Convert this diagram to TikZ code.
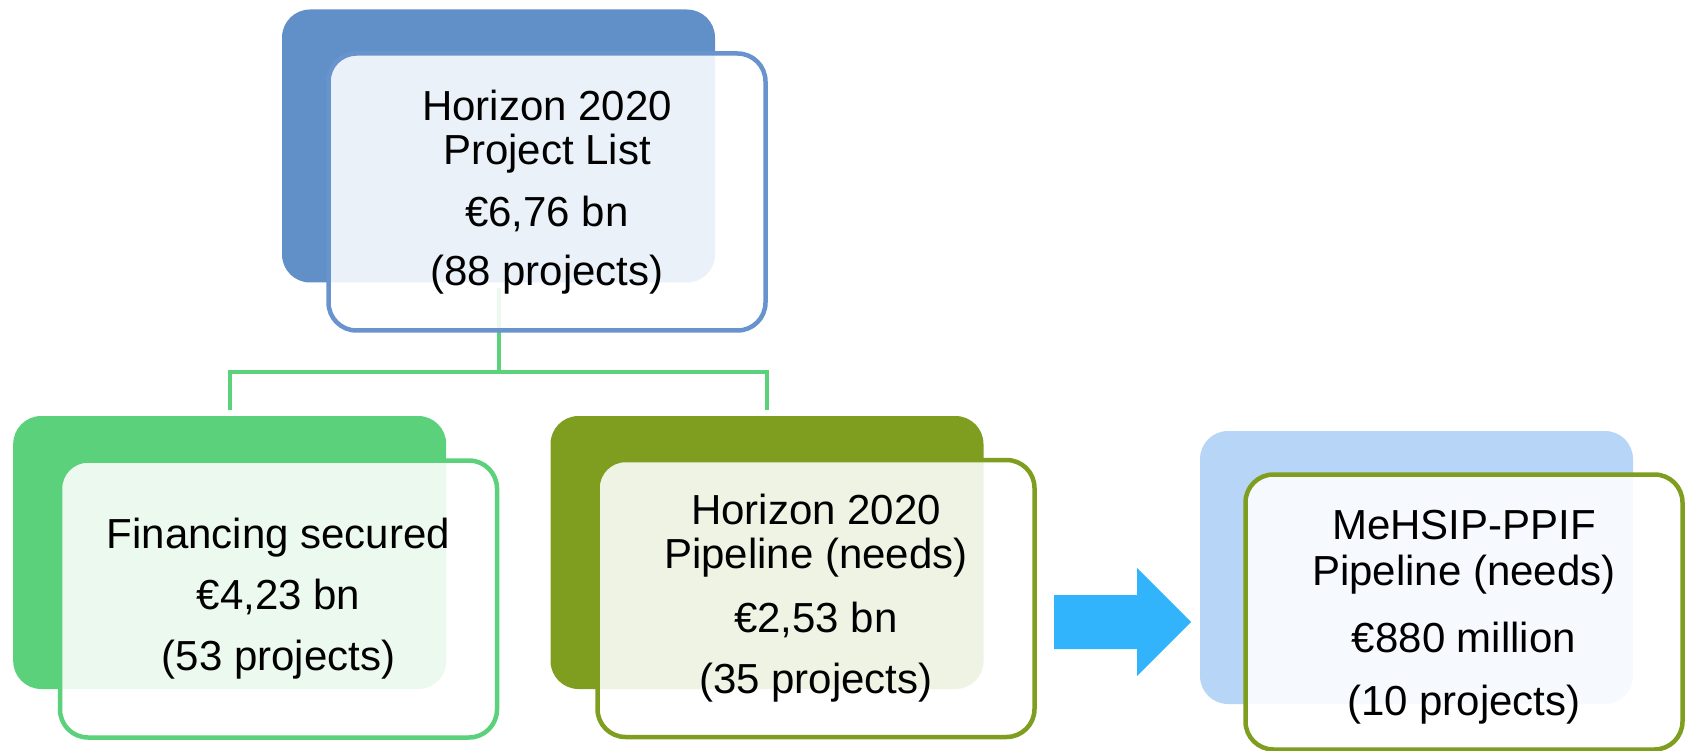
\documentclass[tikz,border=0pt]{standalone}
\usepackage{fontspec}
\setmainfont{Liberation Sans}
\definecolor{cblue}{RGB}{97,144,201}
\definecolor{cbluestroke}{RGB}{104,147,204}
\definecolor{cgreen}{RGB}{91,209,123}
\definecolor{colive}{RGB}{127,158,32}
\definecolor{clight}{RGB}{183,213,247}
\definecolor{carrow}{RGB}{49,180,252}
\tikzset{
  backbox/.style={rectangle, rounded corners=28pt, draw=none, inner sep=0pt,
    minimum width=433pt, minimum height=273pt},
  frontbox/.style={rectangle, rounded corners=28pt, line width=4.5pt, fill=white,
    fill opacity=0.88, text opacity=1, inner sep=0pt, align=center,
    minimum width=437pt, minimum height=277pt,
    font=\fontsize{42}{44}\selectfont},
  conn/.style={draw=cgreen, line width=4pt},
}
\begin{document}
\begin{tikzpicture}[x=1pt,y=-1pt]
\useasboundingbox (0,0) rectangle (1687,751);
% back boxes
\node[backbox, fill=cblue] (b1) at (498.5,146) {};
\node[backbox, fill=cgreen] (b2) at (229.7,552.5) {};
\node[backbox, fill=colive] (b3) at (767,552.5) {};
\node[backbox, fill=clight] (b4) at (1416.5,567.5) {};
% connectors
\coordinate (j) at (498.5,372);
\draw[conn, shorten <=5pt] (b1.south) -- (j);
\draw[conn, shorten <=6pt, shorten >=6pt] (b2.north) |- (j) -| (b3.north);
% block arrow
\coordinate (a1) at (1054,595);
\coordinate (a2) at (1137,595);
\coordinate (a3) at (1137,568);
\coordinate (a4) at (1191,622);
\coordinate (a5) at (1137,676);
\coordinate (a6) at (1137,649);
\coordinate (a7) at (1054,649);
\fill[carrow] (a1) -- (a2) -- (a3) -- (a4) -- (a5) -- (a6) -- (a7) -- cycle;
% front boxes
\node[frontbox, draw=cbluestroke] (f1) at (547,192)
  {Horizon 2020\\Project List\\[18pt]€6,76 bn\\[15pt](88 projects)};
\node[frontbox, draw=cgreen] (f2) at (278.5,599)
  {Financing secured\\[17pt]€4,23 bn\\[17pt](53 projects)};
\node[frontbox, draw=colive] (f3) at (816,598.5)
  {Horizon 2020\\Pipeline (needs)\\[20pt]€2,53 bn\\[17pt](35 projects)};
\node[frontbox, draw=colive, minimum height=275pt] (f4) at (1464,612)
  {\rule{0pt}{40pt}MeHSIP-PPIF\\[2pt]Pipeline (needs)\\[23pt]€880 million\\[19pt](10 projects)};
\end{tikzpicture}
\end{document}
